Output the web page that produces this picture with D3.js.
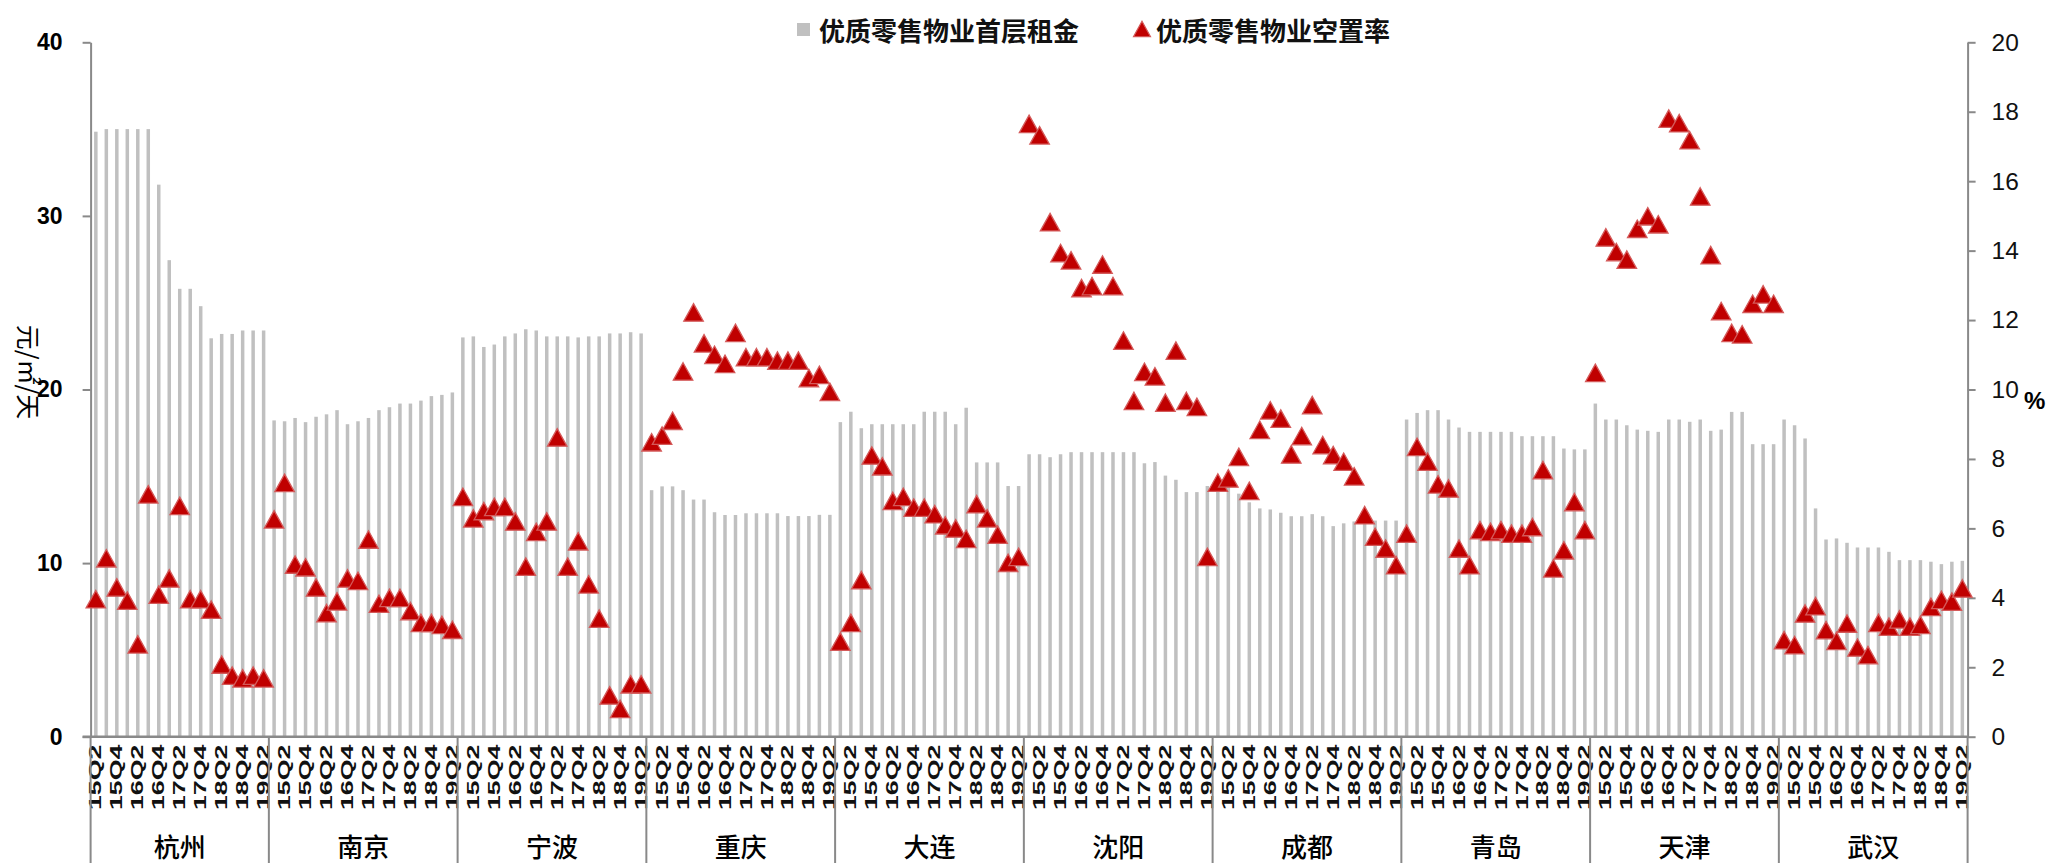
<!DOCTYPE html>
<html>
<head>
<meta charset="utf-8">
<script src="https://cdn.jsdelivr.net/npm/d3@7"></script>
<style>
  body { margin: 0; background: #fff; }
  svg { display: block; }
</style>
</head>
<body>
<svg id="chart" width="2049" height="863"></svg>
<script>
// Prime retail property: ground-floor rent (元/㎡/天) and vacancy rate (%) by city, quarterly
const cities = ["杭州", "南京", "宁波", "重庆", "大连", "沈阳", "成都", "青岛", "天津", "武汉"];
const quarters = ["15Q1", "15Q2", "15Q3", "15Q4", "16Q1", "16Q2", "16Q3", "16Q4", "17Q1",
                  "17Q2", "17Q3", "17Q4", "18Q1", "18Q2", "18Q3", "18Q4", "19Q1", "19Q2"];
const labelledQuarters = ["Q2", "Q4"];
const rentTicks = [0, 10, 20, 30, 40];
const vacancyTicks = [0, 2, 4, 6, 8, 10, 12, 14, 16, 18, 20];

// Series run up to 19Q2; 杭州 starts at 15Q2, the others at 15Q1
const rentHangzhou  = [34.85, 35.0, 35.0, 35.0, 35.0, 35.0, 31.8, 27.45, 25.8, 25.8, 24.8, 22.95, 23.2, 23.2, 23.4, 23.4, 23.4];
const vacHangzhou   = [3.96, 5.14, 4.3, 3.92, 2.66, 6.98, 4.09, 4.56, 6.65, 3.96, 3.96, 3.66, 2.08, 1.76, 1.68, 1.76, 1.68];
const rentNanjing   = [18.22, 18.17, 18.36, 18.12, 18.43, 18.57, 18.81, 18.0, 18.17, 18.36, 18.81, 18.98, 19.19, 19.19, 19.36, 19.62, 19.69, 19.83];
const vacNanjing    = [6.26, 7.31, 4.96, 4.88, 4.3, 3.56, 3.9, 4.56, 4.49, 5.68, 3.83, 4.0, 4.0, 3.62, 3.28, 3.28, 3.22, 3.08];
const rentNingbo    = [23.0, 23.06, 22.45, 22.59, 23.06, 23.23, 23.47, 23.4, 23.06, 23.06, 23.06, 23.0, 23.06, 23.06, 23.23, 23.23, 23.3, 23.23];
const vacNingbo     = [6.91, 6.29, 6.5, 6.62, 6.62, 6.2, 4.9, 5.9, 6.2, 8.62, 4.9, 5.63, 4.39, 3.4, 1.19, 0.8, 1.51, 1.51];
const rentChongqing = [14.2, 14.42, 14.42, 14.2, 13.66, 13.66, 12.93, 12.77, 12.77, 12.87, 12.87, 12.87, 12.87, 12.71, 12.71, 12.71, 12.78, 12.78];
const vacChongqing  = [8.48, 8.67, 9.1, 10.52, 12.22, 11.33, 11.0, 10.74, 11.63, 10.93, 10.93, 10.93, 10.83, 10.83, 10.83, 10.33, 10.42, 9.93];
const rentDalian    = [18.12, 18.72, 17.77, 18.0, 18.0, 18.0, 18.0, 18.0, 18.72, 18.72, 18.72, 18.0, 18.95, 15.8, 15.8, 15.8, 14.44, 14.44];
const vacDalian     = [2.74, 3.28, 4.51, 8.1, 7.79, 6.79, 6.91, 6.6, 6.6, 6.41, 6.09, 6.0, 5.7, 6.7, 6.29, 5.82, 5.01, 5.18];
const rentShenyang  = [16.27, 16.27, 16.1, 16.27, 16.39, 16.39, 16.39, 16.39, 16.39, 16.39, 16.39, 15.75, 15.82, 15.04, 14.8, 14.09, 14.09, 14.44];
const vacShenyang   = [17.65, 17.32, 14.82, 13.93, 13.72, 12.92, 12.98, 13.6, 12.98, 11.41, 9.67, 10.51, 10.38, 9.62, 11.12, 9.67, 9.5, 5.18];
const rentChengdu   = [14.4, 14.4, 14.0, 13.5, 13.15, 13.09, 12.9, 12.7, 12.7, 12.82, 12.7, 12.13, 12.29, 12.4, 12.45, 12.45, 12.45, 12.45];
const vacChengdu    = [7.32, 7.44, 8.06, 7.08, 8.84, 9.4, 9.16, 8.13, 8.66, 9.55, 8.4, 8.11, 7.92, 7.5, 6.38, 5.76, 5.42, 4.94];
const rentQingdao   = [18.27, 18.65, 18.81, 18.81, 18.27, 17.81, 17.56, 17.56, 17.56, 17.56, 17.56, 17.31, 17.31, 17.31, 17.31, 16.6, 16.55, 16.55];
const vacQingdao    = [5.85, 8.35, 7.92, 7.27, 7.15, 5.42, 4.94, 5.95, 5.9, 5.95, 5.85, 5.85, 6.04, 7.68, 4.85, 5.37, 6.76, 5.95];
const rentTianjin   = [19.19, 18.27, 18.27, 17.94, 17.69, 17.62, 17.56, 18.27, 18.27, 18.14, 18.27, 17.62, 17.69, 18.71, 18.71, 16.85, 16.85, 16.85];
const vacTianjin    = [10.48, 14.38, 13.96, 13.74, 14.63, 14.99, 14.76, 17.8, 17.67, 17.18, 15.56, 13.87, 12.26, 11.63, 11.59, 12.47, 12.74, 12.47];
const rentWuhan     = [18.27, 17.94, 17.18, 13.15, 11.36, 11.42, 11.17, 10.9, 10.9, 10.9, 10.65, 10.17, 10.17, 10.17, 10.08, 9.94, 10.08, 10.13];
const vacWuhan      = [2.78, 2.64, 3.55, 3.76, 3.07, 2.76, 3.26, 2.57, 2.35, 3.28, 3.17, 3.38, 3.17, 3.22, 3.74, 3.94, 3.89, 4.27];

const rentSeries = [rentHangzhou, rentNanjing, rentNingbo, rentChongqing, rentDalian,
                    rentShenyang, rentChengdu, rentQingdao, rentTianjin, rentWuhan];
const vacSeries  = [vacHangzhou, vacNanjing, vacNingbo, vacChongqing, vacDalian,
                    vacShenyang, vacChengdu, vacQingdao, vacTianjin, vacWuhan];

// One row per city-quarter, in drawing order
const rows = [];
cities.forEach((city, i) => {
  const rent = rentSeries[i];
  const qs = quarters.slice(quarters.length - rent.length);
  qs.forEach((q, j) => {
    rows.push({ key: city + "|" + q, city, q, rent: rent[j], vac: vacSeries[i][j] });
  });
});

const svg = d3.select("#chart");
const X0 = 90.6, X1 = 1967.6, Y0 = 736.7, YTOP = 42.3, YBOTTOM = 863;
const AXIS = "#898989";
const NUM_FONT = "'Liberation Sans', Arial, sans-serif";
const CJK_FONT = "'Noto Sans CJK SC', sans-serif";

const x = d3.scaleBand().domain(rows.map(d => d.key)).range([X0, X1]).padding(0);
const yL = d3.scaleLinear().domain([0, 40]).range([Y0, YTOP]);
const yR = d3.scaleLinear().domain([0, 20]).range([Y0, YTOP]);

// Rent bars
const barW = 3.5;
svg.append("g").selectAll("rect").data(rows).join("rect")
  .attr("x", d => x(d.key) + x.bandwidth() / 2 - barW / 2)
  .attr("y", d => yL(d.rent))
  .attr("width", barW)
  .attr("height", d => yL(0) - yL(d.rent))
  .attr("fill", "#c0c0c0");

// Left axis
const axL = svg.append("g").attr("transform", `translate(${X0},0)`)
  .call(d3.axisLeft(yL).tickValues(rentTicks).tickSize(8).tickSizeOuter(0).tickPadding(20));
axL.select(".domain").attr("stroke", AXIS).attr("stroke-width", 2);
axL.selectAll(".tick line").attr("stroke", AXIS).attr("stroke-width", 2);
axL.selectAll(".tick text").attr("font-family", NUM_FONT).attr("font-size", 23)
  .attr("font-weight", "bold").attr("fill", "#000");

// Right axis
const axR = svg.append("g").attr("transform", `translate(${X1},0)`)
  .call(d3.axisRight(yR).tickValues(vacancyTicks).tickSize(8).tickSizeOuter(0).tickPadding(16));
axR.select(".domain").attr("stroke", AXIS).attr("stroke-width", 2);
axR.selectAll(".tick line").attr("stroke", AXIS).attr("stroke-width", 2);
axR.selectAll(".tick text").attr("font-family", NUM_FONT).attr("font-size", 24.5)
  .attr("fill", "#111");

// Category axis: quarter labels (Q2 / Q4) rotated, then city groups
const labelKeys = rows.filter(d => labelledQuarters.includes(d.q.slice(2))).map(d => d.key);
const axB = svg.append("g").attr("transform", `translate(0,${Y0})`)
  .call(d3.axisBottom(x).tickValues(labelKeys).tickSize(0).tickSizeOuter(0)
    .tickFormat(k => k.split("|")[1]));
axB.select(".domain").attr("stroke", AXIS).attr("stroke-width", 2.5)
  .attr("d", `M${X0 - 8},0H${X1}`);
axB.selectAll(".tick text")
  .attr("font-family", NUM_FONT).attr("font-size", 16.5).attr("font-weight", "bold")
  .attr("fill", "#111")
  .attr("text-anchor", "end").attr("dominant-baseline", "central")
  .attr("x", null).attr("y", null).attr("dy", null)
  .attr("transform", "translate(0,8) rotate(-90) scale(1.62,1)");

// City group separators and names
const groups = cities.map(city => {
  const keys = rows.filter(d => d.city === city).map(d => d.key);
  return { city, x0: x(keys[0]), x1: x(keys[keys.length - 1]) + x.bandwidth() };
});
const sepX = [X0].concat(groups.map(g => g.x1));
svg.append("g").selectAll("line").data(sepX).join("line")
  .attr("x1", d => d).attr("x2", d => d)
  .attr("y1", Y0).attr("y2", YBOTTOM)
  .attr("stroke", AXIS).attr("stroke-width", 2);
svg.append("g").selectAll("text").data(groups).join("text")
  .attr("x", g => (g.x0 + g.x1) / 2).attr("y", 845)
  .attr("text-anchor", "middle").attr("dominant-baseline", "central")
  .attr("font-family", CJK_FONT).attr("font-size", 26).attr("font-weight", 500)
  .attr("fill", "#000")
  .text(g => g.city);

// Vacancy markers
const triW = 19.5, triH = 17.5;
const triPath = (w, h) => `M0,${-h / 2}L${w / 2},${h / 2}L${-w / 2},${h / 2}Z`;
svg.append("g").selectAll("path").data(rows).join("path")
  .attr("d", triPath(triW, triH))
  .attr("transform", d => `translate(${x(d.key) + x.bandwidth() / 2},${yR(d.vac)})`)
  .attr("fill", "#c00000").attr("stroke", "#d45a5a").attr("stroke-width", 1.3);

// Axis titles
svg.append("text")
  .attr("transform", "translate(30,372) rotate(90)")
  .attr("text-anchor", "middle").attr("dominant-baseline", "central")
  .attr("font-family", CJK_FONT).attr("font-size", 25).attr("fill", "#000")
  .text("元/㎡/天");
svg.append("text")
  .attr("x", 2024).attr("y", 409)
  .attr("font-family", NUM_FONT).attr("font-size", 24).attr("font-weight", "bold")
  .attr("fill", "#000").text("%");

// Legend
const legend = svg.append("g");
legend.append("rect").attr("x", 797).attr("y", 23).attr("width", 13).attr("height", 13)
  .attr("fill", "#c0c0c0");
legend.append("text").attr("x", 819).attr("y", 29).attr("dominant-baseline", "central")
  .attr("font-family", CJK_FONT).attr("font-size", 26).attr("font-weight", "bold")
  .attr("fill", "#111").text("优质零售物业首层租金");
legend.append("path").attr("d", triPath(17, 15.5))
  .attr("transform", "translate(1142,29)")
  .attr("fill", "#c00000").attr("stroke", "#d45a5a").attr("stroke-width", 1.2);
legend.append("text").attr("x", 1156).attr("y", 29).attr("dominant-baseline", "central")
  .attr("font-family", CJK_FONT).attr("font-size", 26).attr("font-weight", "bold")
  .attr("fill", "#111").text("优质零售物业空置率");
</script>
</body>
</html>
